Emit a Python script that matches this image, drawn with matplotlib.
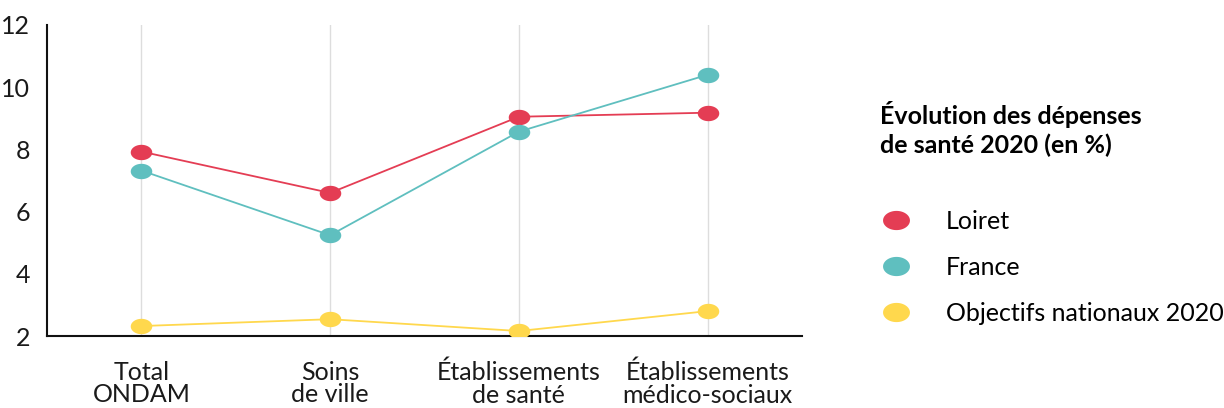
import matplotlib
matplotlib.use("Agg")
import matplotlib.pyplot as plt
import numpy as np
from matplotlib.path import Path

categories = ["Total\nONDAM", "Soins\nde ville", "Établissements\nde santé", "Établissements\nmédico-sociaux"]
loiret = [7.93, 6.6, 9.05, 9.18]
france = [7.32, 5.24, 8.57, 10.4]
objectifs = [2.32, 2.54, 2.16, 2.8]
series_names = ["Loiret", "France", "Objectifs nationaux 2020"]
colors = ["#E43D54", "#5FBFBF", "#FFD84D"]
legend_title = "Évolution des dépenses\nde santé 2020 (en %)"

plt.rcParams['font.family'] = ['Lato', 'DejaVu Sans']

t = np.linspace(0, 2 * np.pi, 60)
ell = Path(np.column_stack([1.4 * np.cos(t), np.sin(t)]), closed=True)

fig = plt.figure(figsize=(12.24, 4.08), dpi=100)
ax = fig.add_axes([47 / 1224, 1 - 336 / 408, (802 - 47) / 1224, (336 - 25) / 408])

x = np.arange(len(categories))
for vals, name, c in zip([loiret, france, objectifs], series_names, colors):
    ax.plot(x, vals, color=c, lw=1.3, marker=ell, markersize=15.5,
            markeredgewidth=0, label=name, zorder=3)

ax.set_xlim(-0.5, 3.5)
ax.set_ylim(2, 12)
ax.set_yticks([2, 4, 6, 8, 10, 12])
ax.set_xticks(x)
ax.set_xticklabels(categories, fontsize=18, linespacing=0.95, color="#1a1a1a")
ax.tick_params(axis='y', length=0, pad=12, labelsize=18, labelcolor="#1a1a1a")
ax.tick_params(axis='x', length=0, pad=18)
ax.grid(axis='x', color="#dddddd", lw=1)
ax.set_axisbelow(True)
for s in ["top", "right"]:
    ax.spines[s].set_visible(False)
for s in ["left", "bottom"]:
    ax.spines[s].set_linewidth(1.5)
    ax.spines[s].set_color("#111111")

leg = fig.legend(loc="upper left", bbox_to_anchor=(868 / 1224, 1 - 88 / 408),
                 frameon=False, fontsize=18, title=legend_title,
                 title_fontproperties={"weight": "bold", "size": 18},
                 alignment="left", markerscale=1.25, handlelength=1.2,
                 handletextpad=1.4, labelspacing=0.93, borderpad=0)
leg.get_title().set_linespacing(1.3)
for h in leg.legend_handles:
    h.set_linestyle("none")
leg._legend_box.sep = 38

fig.savefig("out.png", dpi=100)
